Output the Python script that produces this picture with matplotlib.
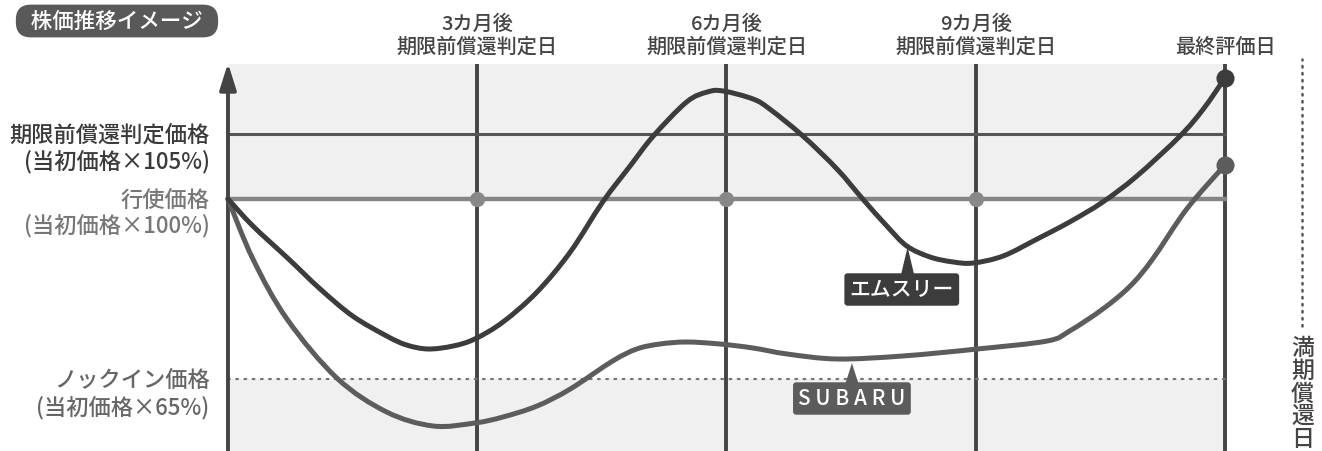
import matplotlib
matplotlib.use("Agg")
import matplotlib.pyplot as plt
from matplotlib.path import Path
from matplotlib.patches import PathPatch

plt.rcParams['font.family'] = ['Noto Sans CJK JP', 'DejaVu Sans']
plt.rcParams['font.weight'] = 'medium'

# Data (x: months, y: schematic price level)

months = [0, 3, 6, 9, 12]

m3_x = [0, 0.30, 0.73, 1.11, 1.50, 1.91, 2.15, 2.41, 2.71, 2.97, 3.31, 3.72,
        4.12, 4.51, 4.84, 5.12, 5.52, 5.77, 5.96, 6.32, 6.52, 6.92, 7.33,
        7.64, 7.93, 8.17, 8.45, 8.73, 8.97, 9.33, 9.74, 10.13, 10.53, 10.94,
        11.46, 11.74, 12.0]
m3_y = [252, 225, 192, 162, 135, 115, 106, 102, 105, 112, 129, 159,
        199, 249, 285, 315, 349, 359, 360, 352, 342, 315, 282,
        252, 225, 205, 194, 189, 188, 195, 212, 229, 249, 275,
        315, 342, 373]

subaru_x = [0, 0.30, 0.71, 1.31, 1.91, 2.47, 2.97, 3.31, 3.72, 4.12, 4.63,
            4.92, 5.20, 5.52, 5.92, 6.32, 6.73, 7.33, 8.12, 9.02, 9.86,
            10.13, 10.53, 10.86, 11.13, 11.54, 12.0]
subaru_y = [252, 192, 132, 73, 39, 25, 28, 34, 45, 62, 90,
            102, 107, 109, 107, 103, 97, 92, 95, 102, 110,
            120, 142, 165, 192, 242, 286]

level_kickout = 317   # 105%
level_strike = 252    # 100%
level_knockin = 72    # 65%
level_top = 387

top_labels = ["", "3カ月後\n期限前償還判定日", "6カ月後\n期限前償還判定日",
              "9カ月後\n期限前償還判定日", "最終評価日"]


def smooth_path(xs, ys):
    # Catmull-Rom through the read points, drawn as cubic Bezier segments
    pts = list(zip(xs, ys))
    verts = [pts[0]]
    codes = [Path.MOVETO]
    for i in range(len(pts) - 1):
        p0 = pts[i - 1] if i > 0 else pts[i]
        p1 = pts[i]
        p2 = pts[i + 1]
        p3 = pts[i + 2] if i + 2 < len(pts) else pts[i + 1]
        c1 = (p1[0] + (p2[0] - p0[0]) / 6, p1[1] + (p2[1] - p0[1]) / 6)
        c2 = (p2[0] - (p3[0] - p1[0]) / 6, p2[1] - (p3[1] - p1[1]) / 6)
        verts += [c1, c2, p2]
        codes += [Path.CURVE4] * 3
    return Path(verts, codes)


# Figure

fig = plt.figure(figsize=(13.22, 4.52), dpi=100)
ax = fig.add_axes([0, 0, 1, 1])
ax.set_xlim(-2.744, 13.168)
ax.set_ylim(0, 452)
ax.axis("off")

# shaded bands
ax.fill_between([0, 12], level_strike, level_top, color="#f0f0f0", lw=0, zorder=0)
ax.fill_between([0, 12], 0, level_knockin, color="#f0f0f0", lw=0, zorder=0)

# vertical date lines
for m in months[1:]:
    ax.plot([m, m], [0, level_top], color="#444444", lw=2.8, zorder=2,
            solid_capstyle="butt")

# y axis arrow
ax.annotate("", xy=(0, level_top + 1), xytext=(0, 0),
            arrowprops=dict(arrowstyle="-|>,head_length=1.6,head_width=0.5",
                            color="#444444", lw=2.8, shrinkA=0, shrinkB=0),
            zorder=3)

# reference lines
ax.plot([0, 12], [level_kickout, level_kickout], color="#555555", lw=2.2, zorder=2)
ax.plot([0, 12], [level_strike, level_strike], color="#858585", lw=3.2, zorder=2)
ax.plot([0, 12.04], [level_knockin, level_knockin], color="#777777", lw=1.6,
        linestyle=(0, (0.8, 2.9)), dash_capstyle="round", zorder=2)
ax.scatter(months[1:4], [level_strike] * 3, s=120, color="#888888", zorder=4,
           linewidths=0)

# curves
ax.add_patch(PathPatch(smooth_path(subaru_x, subaru_y), fc="none",
                       ec="#5c5c5c", lw=3.6, zorder=5, capstyle="round"))
ax.add_patch(PathPatch(smooth_path(m3_x, m3_y), fc="none",
                       ec="#3c3c3c", lw=3.6, zorder=6, capstyle="round"))
ax.scatter([12], [subaru_y[-1]], s=170, color="#5c5c5c", zorder=7, linewidths=0)
ax.scatter([12], [m3_y[-1]], s=170, color="#3c3c3c", zorder=7, linewidths=0)

# series labels with pointers
ax.fill([8.10, 8.26, 8.18], [176, 176, 204], color="#3c3c3c", lw=0, zorder=8)
ax.text(8.11, 161.5, "エムスリー", fontsize=15, color="white", ha="center",
        va="center", zorder=9,
        bbox=dict(boxstyle="round,pad=0.25,rounding_size=0.15",
                  fc="#3c3c3c", ec="none"))

ax.fill([7.43, 7.59, 7.51], [67, 67, 88], color="#5c5c5c", lw=0, zorder=8)
ax.text(7.51, 52.5, "S U B A R U", fontsize=15, color="white", ha="center",
        va="center", zorder=9,
        bbox=dict(boxstyle="round,pad=0.25,rounding_size=0.15",
                  fc="#5c5c5c", ec="none"))

# top labels
for m, lab in zip(months, top_labels):
    if lab:
        ax.text(m, 395, lab, fontsize=14.5, color="#444444", ha="center",
                va="bottom", linespacing=1.2)

# left labels
ax.text(-0.22, level_kickout, "期限前償還判定価格", fontsize=16, color="#3a3a3a",
        ha="right", va="center")
ax.text(-0.22, level_kickout - 27, "(当初価格×105%)", fontsize=16,
        color="#3a3a3a", ha="right", va="center")
ax.text(-0.22, level_strike, "行使価格", fontsize=16, color="#777777",
        ha="right", va="center")
ax.text(-0.22, level_strike - 26, "(当初価格×100%)", fontsize=16,
        color="#777777", ha="right", va="center")
ax.text(-0.22, level_knockin, "ノックイン価格", fontsize=16, color="#666666",
        ha="right", va="center")
ax.text(-0.22, level_knockin - 28, "(当初価格×65%)", fontsize=16,
        color="#666666", ha="right", va="center")

# title pill
ax.text(-1.336, 430, "  株価推移イメージ  ", fontsize=15.5, color="white",
        ha="center", va="center",
        bbox=dict(boxstyle="round,pad=0.25,rounding_size=0.7",
                  fc="#595959", ec="none"))

# maturity marker
ax.plot([12.93, 12.93], [125, 392], color="#555555", lw=1.8,
        linestyle=(0, (0.6, 2.2)), dash_capstyle="round")
ax.text(12.93, 58, "満\n期\n償\n還\n日", fontsize=16.5, color="#444444",
        ha="center", va="center", linespacing=0.98)

plt.savefig("out.png", dpi=100)
